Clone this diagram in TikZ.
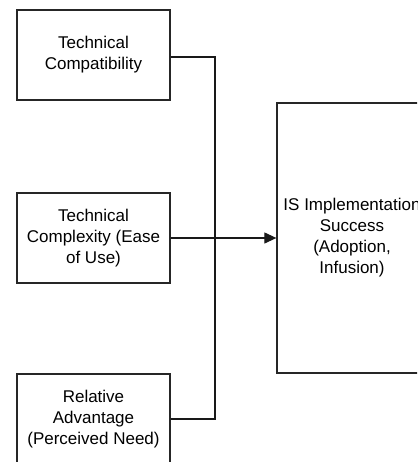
\documentclass[tikz,border=0pt]{standalone}
\usepackage{fontspec}
\setmainfont{Liberation Sans}
\usetikzlibrary{arrows.meta}
\begin{document}
\begin{tikzpicture}[x=1pt,y=-1pt,
  box/.style={draw=black!85,line width=1.3pt,rectangle,inner sep=0pt,align=center,
    font=\fontsize{17}{21}\selectfont},
  conn/.style={draw=black!90,line width=1.2pt}]
\useasboundingbox (0,0) rectangle (417,462);
\clip (0,0) rectangle (417,462);
\node[box,minimum width=153pt,minimum height=90pt] (b1) at (93.5,55) {Technical\\Compatibility};
\node[box,minimum width=153pt,minimum height=90pt] (b2) at (93.5,238) {Technical\\Complexity (Ease\\of Use)};
\node[box,minimum width=153pt,minimum height=90pt] (b3) at (93.5,419) {Relative\\Advantage\\(Perceived Need)};
\node[box,minimum width=150pt,minimum height=270pt] (r) at (352,238) {IS Implementation\\Success\\(Adoption,\\Infusion)};
\coordinate (j) at (215,238);
\draw[conn] (b1.east |- 0,57) -| (j);
\draw[conn] (b3.east) -| (j);
\draw[conn,-{Triangle[length=12pt,width=11pt]}] (b2.east) -- (r.west);
\end{tikzpicture}
\end{document}
